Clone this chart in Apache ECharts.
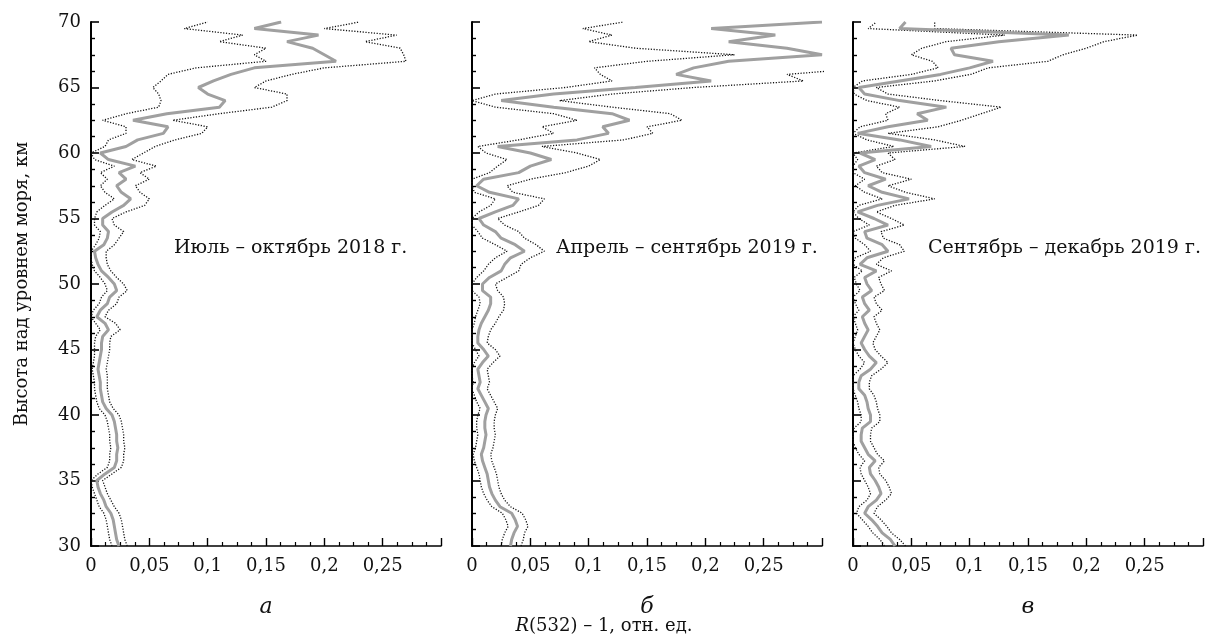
<!DOCTYPE html>
<html>
<head>
<meta charset="utf-8">
<script src="https://cdn.jsdelivr.net/npm/echarts@6/dist/echarts.min.js"></script>
<style>
html,body{margin:0;padding:0;background:#fff;}
#chart{width:1208px;height:641px;}
</style>
</head>
<body>
<div id="chart"></div>
<script>
// Altitude grid, km
const altitudes = [30,30.5,31,31.5,32,32.5,33,33.5,34,34.5,35,35.5,36,36.5,37,37.5,38,38.5,39,39.5,40,40.5,41,41.5,42,42.5,43,43.5,44,44.5,45,45.5,46,46.5,47,47.5,48,48.5,49,49.5,50,50.5,51,51.5,52,52.5,53,53.5,54,54.5,55,55.5,56,56.5,57,57.5,58,58.5,59,59.5,60,60.5,61,61.5,62,62.5,63,63.5,64,64.5,65,65.5,66,66.5,67,67.5,68,68.5,69,69.5,70];

// Panel а: Июль – октябрь 2018 г.
const meanA  = [0.024,0.022,0.021,0.020,0.019,0.017,0.013,0.011,0.008,0.006,0.005,0.012,0.020,0.022,0.022,0.023,0.022,0.022,0.021,0.020,0.018,0.013,0.010,0.009,0.008,0.008,0.007,0.006,0.007,0.008,0.009,0.009,0.010,0.015,0.012,0.005,0.008,0.014,0.016,0.022,0.020,0.015,0.009,0.006,0.004,0.003,0.011,0.014,0.015,0.010,0.010,0.018,0.028,0.034,0.026,0.022,0.030,0.024,0.038,0.015,0.008,0.030,0.040,0.062,0.066,0.036,0.065,0.110,0.115,0.100,0.092,0.105,0.120,0.140,0.210,0.200,0.190,0.168,0.195,0.140,0.163];
const lowerA = [0.018,0.016,0.015,0.014,0.013,0.011,0.007,0.005,0.003,0.001,0.000,0.006,0.014,0.016,0.016,0.017,0.016,0.016,0.015,0.014,0.012,0.007,0.005,0.004,0.003,0.003,0.002,0.001,0.002,0.003,0.003,0.003,0.004,0.008,0.004,0.000,0.002,0.007,0.009,0.014,0.012,0.008,0.003,0.001,0.000,0.000,0.004,0.007,0.008,0.003,0.003,0.005,0.012,0.020,0.012,0.008,0.014,0.008,0.020,0.003,0.000,0.012,0.015,0.030,0.030,0.010,0.030,0.058,0.060,0.058,0.053,0.060,0.066,0.090,0.150,0.140,0.150,0.110,0.130,0.080,0.100];
const upperA = [0.031,0.029,0.028,0.027,0.026,0.024,0.020,0.017,0.014,0.012,0.010,0.018,0.026,0.028,0.028,0.029,0.028,0.028,0.027,0.026,0.024,0.019,0.016,0.015,0.014,0.014,0.014,0.013,0.014,0.015,0.016,0.016,0.017,0.025,0.021,0.012,0.015,0.022,0.024,0.031,0.028,0.022,0.017,0.014,0.013,0.013,0.020,0.024,0.028,0.020,0.018,0.030,0.046,0.050,0.042,0.038,0.050,0.042,0.056,0.035,0.045,0.055,0.072,0.095,0.100,0.070,0.110,0.155,0.168,0.168,0.140,0.150,0.172,0.200,0.270,0.268,0.265,0.235,0.262,0.200,0.230];

// Panel б: Апрель – сентябрь 2019 г.
const meanB  = [0.033,0.034,0.036,0.039,0.037,0.034,0.024,0.020,0.017,0.015,0.014,0.013,0.011,0.009,0.008,0.010,0.011,0.012,0.011,0.011,0.012,0.014,0.011,0.008,0.005,0.007,0.006,0.005,0.009,0.014,0.010,0.005,0.005,0.006,0.008,0.011,0.014,0.016,0.016,0.009,0.009,0.015,0.025,0.028,0.033,0.045,0.037,0.025,0.020,0.010,0.006,0.020,0.035,0.040,0.015,0.004,0.010,0.040,0.050,0.068,0.050,0.022,0.090,0.117,0.112,0.135,0.120,0.070,0.025,0.070,0.140,0.205,0.175,0.190,0.220,0.300,0.270,0.220,0.260,0.205,0.300];
const lowerB = [0.025,0.026,0.028,0.031,0.029,0.026,0.017,0.013,0.010,0.008,0.007,0.006,0.004,0.002,0.001,0.003,0.004,0.005,0.004,0.004,0.005,0.007,0.004,0.002,0.000,0.001,0.000,0.000,0.002,0.006,0.003,0.000,0.000,0.000,0.002,0.003,0.005,0.007,0.006,0.000,0.000,0.004,0.010,0.014,0.020,0.030,0.020,0.009,0.005,0.000,0.000,0.006,0.016,0.020,0.002,0.000,0.000,0.015,0.022,0.030,0.012,0.005,0.040,0.070,0.060,0.090,0.070,0.020,0.000,0.020,0.080,0.120,0.110,0.105,0.150,0.225,0.140,0.100,0.120,0.095,0.130];
const upperB = [0.042,0.044,0.045,0.048,0.046,0.043,0.033,0.028,0.025,0.023,0.022,0.021,0.019,0.017,0.016,0.018,0.019,0.020,0.019,0.019,0.020,0.022,0.019,0.016,0.013,0.015,0.014,0.013,0.018,0.024,0.020,0.013,0.014,0.016,0.020,0.023,0.027,0.028,0.027,0.022,0.020,0.030,0.040,0.042,0.050,0.062,0.055,0.045,0.040,0.028,0.022,0.040,0.057,0.062,0.035,0.030,0.050,0.080,0.100,0.110,0.090,0.060,0.130,0.155,0.150,0.180,0.170,0.120,0.075,0.120,0.190,0.284,0.270,0.340,0.340,0.340,0.340,0.340,0.340,0.340,0.340];

// Panel в: Сентябрь – декабрь 2019 г.
const meanC  = [0.036,0.032,0.025,0.021,0.016,0.010,0.013,0.020,0.024,0.022,0.019,0.015,0.014,0.019,0.013,0.010,0.007,0.007,0.008,0.015,0.015,0.013,0.012,0.010,0.005,0.005,0.007,0.015,0.020,0.014,0.010,0.007,0.010,0.013,0.010,0.008,0.014,0.010,0.008,0.016,0.012,0.010,0.020,0.006,0.012,0.030,0.025,0.012,0.010,0.030,0.018,0.004,0.021,0.048,0.025,0.013,0.028,0.010,0.005,0.019,0.006,0.067,0.040,0.004,0.030,0.064,0.055,0.080,0.040,0.010,0.005,0.040,0.075,0.100,0.120,0.087,0.084,0.125,0.185,0.040,0.045];
const lowerC = [0.027,0.023,0.017,0.013,0.008,0.003,0.005,0.012,0.015,0.013,0.010,0.007,0.006,0.010,0.005,0.002,0.000,0.000,0.001,0.007,0.007,0.005,0.004,0.002,0.000,0.000,0.000,0.006,0.010,0.005,0.002,0.000,0.002,0.004,0.002,0.000,0.005,0.002,0.000,0.006,0.003,0.001,0.008,0.000,0.002,0.015,0.010,0.002,0.000,0.014,0.005,0.000,0.005,0.025,0.010,0.002,0.010,0.000,0.000,0.004,0.000,0.035,0.012,0.000,0.006,0.030,0.028,0.040,0.012,0.001,0.000,0.008,0.050,0.073,0.068,0.050,0.059,0.080,0.130,0.013,0.020];
const upperC = [0.045,0.040,0.033,0.029,0.024,0.018,0.021,0.028,0.033,0.031,0.028,0.023,0.022,0.027,0.021,0.018,0.015,0.015,0.016,0.023,0.023,0.021,0.020,0.018,0.014,0.014,0.016,0.024,0.030,0.024,0.019,0.017,0.020,0.023,0.020,0.018,0.025,0.020,0.018,0.027,0.024,0.022,0.033,0.020,0.026,0.044,0.040,0.026,0.024,0.044,0.033,0.020,0.036,0.070,0.045,0.030,0.050,0.025,0.020,0.036,0.030,0.096,0.070,0.030,0.073,0.093,0.110,0.127,0.075,0.030,0.020,0.070,0.101,0.116,0.167,0.180,0.200,0.215,0.244,0.070,0.070];

const panelTitles = ['Июль – октябрь 2018 г.', 'Апрель – сентябрь 2019 г.', 'Сентябрь – декабрь 2019 г.'];
const panelLetters = ['а', 'б', 'в'];
const xTicks = {min: 0, max: 0.3, interval: 0.05};
const yTicks = {min: 30, max: 70, interval: 5};
const yTitle = 'Высота над уровнем моря, км';

const FONT = "'DejaVu Serif','Liberation Serif',serif";
const panels = [
  {mean: meanA, lower: lowerA, upper: upperA},
  {mean: meanB, lower: lowerB, upper: upperB},
  {mean: meanC, lower: lowerC, upper: upperC}
];
const lefts = [91, 472, 853];
const titleX = [174, 556, 928];

function pairs(vals){ return vals.map((v,i)=>[v, altitudes[i]]); }
function fmt(v){
  if (v > 0.29) return '';
  if (v === 0) return '0';
  return String(+v.toFixed(2)).replace('.', ',');
}

const grid = [], xAxis = [], yAxis = [], series = [], graphic = [];
panels.forEach((p, k) => {
  grid.push({left: lefts[k], top: 22, width: 350, height: 524});
  xAxis.push({
    type: 'value', gridIndex: k, min: xTicks.min, max: xTicks.max, interval: xTicks.interval,
    splitLine: {show: false},
    axisLine: {show: true, lineStyle: {color: '#000', width: 1.6}},
    axisTick: {show: true, inside: true, length: 8, lineStyle: {color: '#000', width: 1.4}},
    minorTick: {show: true, splitNumber: 4, length: 4, lineStyle: {color: '#000', width: 1.2}},
    axisLabel: {formatter: fmt, color: '#111', fontFamily: FONT, fontSize: 18, margin: 11, showMaxLabel: true},
    name: panelLetters[k], nameLocation: 'middle', nameGap: 50,
    nameTextStyle: {fontFamily: FONT, fontStyle: 'italic', fontSize: 22, color: '#111'}
  });
  yAxis.push({
    type: 'value', gridIndex: k, min: yTicks.min, max: yTicks.max, interval: yTicks.interval,
    splitLine: {show: false},
    axisLine: {show: true, lineStyle: {color: '#000', width: 2}},
    axisTick: {show: true, inside: true, length: 8, lineStyle: {color: '#000', width: 1.6}},
    minorTick: {show: true, splitNumber: 4, length: 4, lineStyle: {color: '#000', width: 1.4}},
    axisLabel: {show: k === 0, color: '#111', fontFamily: FONT, fontSize: 18, margin: 10},
    name: k === 0 ? yTitle : '', nameLocation: 'middle', nameGap: 60, nameRotate: 90,
    nameTextStyle: {fontFamily: FONT, fontSize: 18, color: '#111'}
  });
  const common = {type: 'line', xAxisIndex: k, yAxisIndex: k, symbol: 'none', clip: true, silent: true, animation: false};
  series.push(Object.assign({}, common, {
    data: pairs(p.lower), z: 3,
    lineStyle: {color: '#111', width: 1.3, type: [1.2, 1.6]}
  }));
  series.push(Object.assign({}, common, {
    data: pairs(p.upper), z: 3,
    lineStyle: {color: '#111', width: 1.3, type: [1.2, 1.6]}
  }));
  series.push(Object.assign({}, common, {
    data: pairs(p.mean), z: 4,
    lineStyle: {color: '#a0a0a0', width: 3}
  }));
  graphic.push({
    type: 'text', left: titleX[k], top: 239,
    style: {text: panelTitles[k], fontFamily: FONT, fontSize: 19, fill: '#111'}
  });
});

graphic.push({
  type: 'text', left: 'center', top: 617,
  style: {
    text: '{i|R}(532) – 1, отн. ед.',
    fontFamily: FONT, fontSize: 18, fill: '#111',
    rich: {i: {fontFamily: FONT, fontStyle: 'italic', fontSize: 18, fill: '#111'}}
  }
});

const chart = echarts.init(document.getElementById('chart'), null, {renderer: 'canvas'});
chart.setOption({
  animation: false,
  backgroundColor: '#fff',
  grid, xAxis, yAxis, series, graphic
});
</script>
</body>
</html>
